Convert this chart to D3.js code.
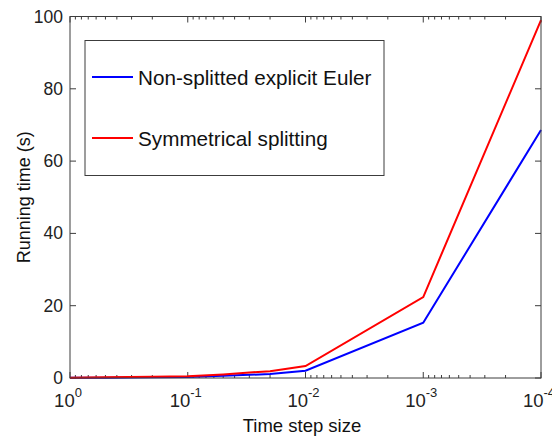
<!DOCTYPE html>
<html><head><meta charset="utf-8">
<script src="https://cdn.jsdelivr.net/npm/d3@7"></script>
<style>body{margin:0;background:#fff;} text{font-family:"Liberation Sans",Arial,sans-serif;}</style>
</head><body>
<svg id="c" width="552" height="438"></svg>
<script>
const steps = [1, 0.5, 0.2, 0.1, 0.05, 0.02, 0.01, 0.001, 0.0001];
const eulerTimes = [0.05, 0.1, 0.2, 0.25, 0.6, 1.1, 2.0, 15.3, 68.6];
const splitTimes = [0.1, 0.2, 0.35, 0.45, 1.0, 1.9, 3.3, 22.4, 99.0];
const xTickVals = [1, 0.1, 0.01, 0.001, 0.0001];
const xTickExps = ["0", "-1", "-2", "-3", "-4"];
const yTickVals = [0, 20, 40, 60, 80, 100];
const seriesNames = ["Non-splitted explicit Euler", "Symmetrical splitting"];
const seriesColors = ["#0000ff", "#ff0000"];

const svg = d3.select("#c");
const L = 70, R = 541, T = 16.5, B = 378;
const x = d3.scaleLog().domain([1, 0.0001]).range([L, R]);
const y = d3.scaleLinear().domain([0, 100]).range([B, T]);
const axisColor = "#3c3c3c";

// minor ticks
const minor = [];
for (let e = 0; e >= -3; e--) for (let k = 2; k <= 9; k++) minor.push(k * Math.pow(10, e - 1));
const g = svg.append("g");
minor.forEach(v => {
  g.append("line").attr("x1", x(v)).attr("x2", x(v)).attr("y1", B).attr("y2", B - 3).attr("stroke", axisColor);
  g.append("line").attr("x1", x(v)).attr("x2", x(v)).attr("y1", T).attr("y2", T + 3).attr("stroke", axisColor);
});
xTickVals.forEach(v => {
  g.append("line").attr("x1", x(v)).attr("x2", x(v)).attr("y1", B).attr("y2", B - 6).attr("stroke", axisColor);
  g.append("line").attr("x1", x(v)).attr("x2", x(v)).attr("y1", T).attr("y2", T + 6).attr("stroke", axisColor);
});
yTickVals.forEach(v => {
  g.append("line").attr("x1", L).attr("x2", L + 6).attr("y1", y(v)).attr("y2", y(v)).attr("stroke", axisColor);
  g.append("line").attr("x1", R).attr("x2", R - 6).attr("y1", y(v)).attr("y2", y(v)).attr("stroke", axisColor);
});

// data lines
const line = d3.line().x(d => x(d[0])).y(d => y(d[1]));
[eulerTimes, splitTimes].forEach((vals, i) => {
  svg.append("path").datum(steps.map((s, j) => [s, vals[j]]))
    .attr("d", line).attr("fill", "none").attr("stroke", seriesColors[i]).attr("stroke-width", 2);
});

// box
svg.append("rect").attr("x", L).attr("y", T).attr("width", R - L).attr("height", B - T)
  .attr("fill", "none").attr("stroke", axisColor).attr("stroke-width", 1);

// x tick labels
xTickVals.forEach((v, i) => {
  const t = svg.append("text").attr("x", x(v) - 2).attr("y", 406.5).attr("text-anchor", "middle")
    .attr("font-size", 18.5).attr("fill", "#222");
  t.append("tspan").text("10");
  t.append("tspan").attr("dy", -10).attr("font-size", 13).text(xTickExps[i]);
});
// y tick labels
yTickVals.forEach(v => {
  svg.append("text").attr("x", 63).attr("y", y(v) + 6).attr("text-anchor", "end")
    .attr("font-size", 17.5).attr("fill", "#222").text(v);
});

// axis labels
svg.append("text").attr("x", 302).attr("y", 432).attr("text-anchor", "middle")
  .attr("font-size", 18.5).attr("fill", "#111").text("Time step size");
svg.append("text").attr("transform", `translate(30,${(T + B) / 2}) rotate(-90)`).attr("text-anchor", "middle")
  .attr("font-size", 18).attr("fill", "#111").text("Running time (s)");

// legend
svg.append("rect").attr("x", 85).attr("y", 40.5).attr("width", 299).attr("height", 135)
  .attr("fill", "#fff").attr("stroke", axisColor);
seriesNames.forEach((n, i) => {
  const ly = 77 + i * 61;
  svg.append("line").attr("x1", 92).attr("x2", 133).attr("y1", ly).attr("y2", ly)
    .attr("stroke", seriesColors[i]).attr("stroke-width", 2);
  svg.append("text").attr("x", 138).attr("y", ly + 7.5).attr("font-size", 20.7).attr("fill", "#111").text(n);
});
</script>
</body></html>
